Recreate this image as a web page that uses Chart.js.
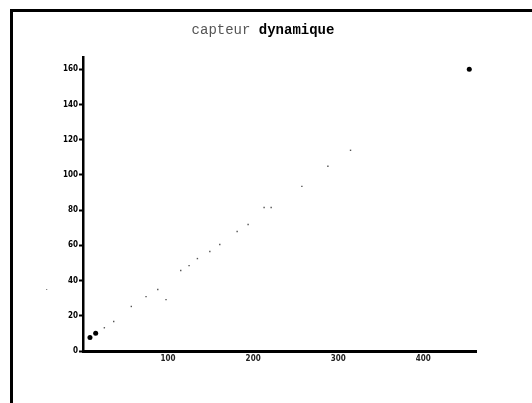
<!DOCTYPE html>
<html>
<head>
<meta charset="utf-8">
<script src="https://cdn.jsdelivr.net/npm/chart.js@4/dist/chart.umd.min.js"></script>
<style>
  body { margin: 0; background: #fff; }
  #wrap { position: relative; width: 532px; height: 403px; overflow: hidden; }
  #frame { position: absolute; left: 10px; top: 9px; width: 530px; height: 400px;
           border-top: 3px solid #000; border-left: 3px solid #000; }
  #title { position: absolute; left: 0; top: 22px; width: 526px; text-align: center;
           font: 14px 'Liberation Mono', 'DejaVu Sans Mono', monospace; line-height: 16px; }
  #title .a { color: #555; }
  #title .b { color: #000; font-weight: bold; }
  canvas { position: absolute; left: 0; top: 0; }
</style>
</head>
<body>
<div id="wrap">
  <canvas id="chart" width="532" height="403"></canvas>
  <div id="frame"></div>
  <div id="title"><span class="a">capteur</span> <span class="b">dynamique</span></div>
</div>
<script>
// measured points (small marks)
const xValues = [25.1, 36.1, 56.8, 74.1, 87.9, 97.6, 114.9, 124.7, 134.5, 149.1, 160.8, 181.2, 194.1, 212.9, 221.2, 257.3, 287.9, 314.5];
const yValues = [13.2, 16.8, 25.3, 30.9, 34.9, 29.2, 45.7, 48.5, 52.5, 56.5, 60.5, 67.9, 71.9, 81.5, 81.5, 93.5, 104.9, 114.0];

// big dots
const bigX = [8.2, 14.9, 454.1];
const bigY = [7.7, 10.1, 160.1];

// stray mark left of the axis
const strayX = [-42.7];
const strayY = [34.9];

const xMax = 462;
const yMax = 167;
const xStep = 100;
const yStep = 20;

const toPoints = (xs, ys) => xs.map((x, i) => ({ x: x, y: ys[i] }));

// points outside the chart area are skipped by Chart.js, draw them without the area check
const outsidePoints = {
  id: 'outsidePoints',
  afterDatasetsDraw(chart) {
    chart.data.datasets.forEach((ds, i) => {
      if (!ds.outside) return;
      chart.getDatasetMeta(i).data.forEach(el => el.draw(chart.ctx));
    });
  },
};

const ctx = document.getElementById('chart').getContext('2d');

new Chart(ctx, {
  type: 'scatter',
  data: {
    datasets: [
      {
        data: toPoints(xValues, yValues),
        pointStyle: 'rect',
        pointRadius: 1,
        backgroundColor: '#555',
        borderWidth: 0,
      },
      {
        data: toPoints(bigX, bigY),
        pointRadius: 2.5,
        backgroundColor: '#000',
        borderWidth: 0,
      },
      {
        data: toPoints(strayX, strayY),
        pointStyle: 'rect',
        pointRadius: 0.8,
        backgroundColor: '#777',
        borderWidth: 0,
        clip: false,
        outside: true,
      },
    ],
  },
  options: {
    responsive: false,
    animation: false,
    layout: { padding: { left: 0, top: 57, right: 56, bottom: 0 } },
    plugins: { legend: { display: false }, tooltip: { enabled: false } },
    scales: {
      x: {
        type: 'linear',
        min: 0,
        max: xMax,
        afterFit: (s) => { s.height = 52; },
        afterBuildTicks: (s) => { s.ticks = s.ticks.filter(t => t.value % xStep === 0 && t.value > 0); },
        ticks: { stepSize: xStep, padding: 3, color: '#222',
                 font: { family: "'DejaVu Sans Condensed', 'DejaVu Sans'", size: 8, weight: 'bold' } },
        grid: { display: true, drawOnChartArea: false, drawTicks: false },
        border: { display: true, color: '#000', width: 3 },
      },
      y: {
        type: 'linear',
        min: 0,
        max: yMax,
        afterFit: (s) => { s.width = 83; },
        afterBuildTicks: (s) => { s.ticks = s.ticks.filter(t => t.value % yStep === 0); },
        ticks: { stepSize: yStep, padding: 1, color: '#000',
                 font: { family: "'DejaVu Sans Condensed', 'DejaVu Sans'", size: 8, weight: 'bold' } },
        grid: { drawOnChartArea: false, drawTicks: true, tickLength: 4, tickWidth: 2, tickColor: '#000' },
        border: { display: true, color: '#000', width: 2.5 },
      },
    },
  },
  plugins: [outsidePoints],
});
</script>
</body>
</html>
